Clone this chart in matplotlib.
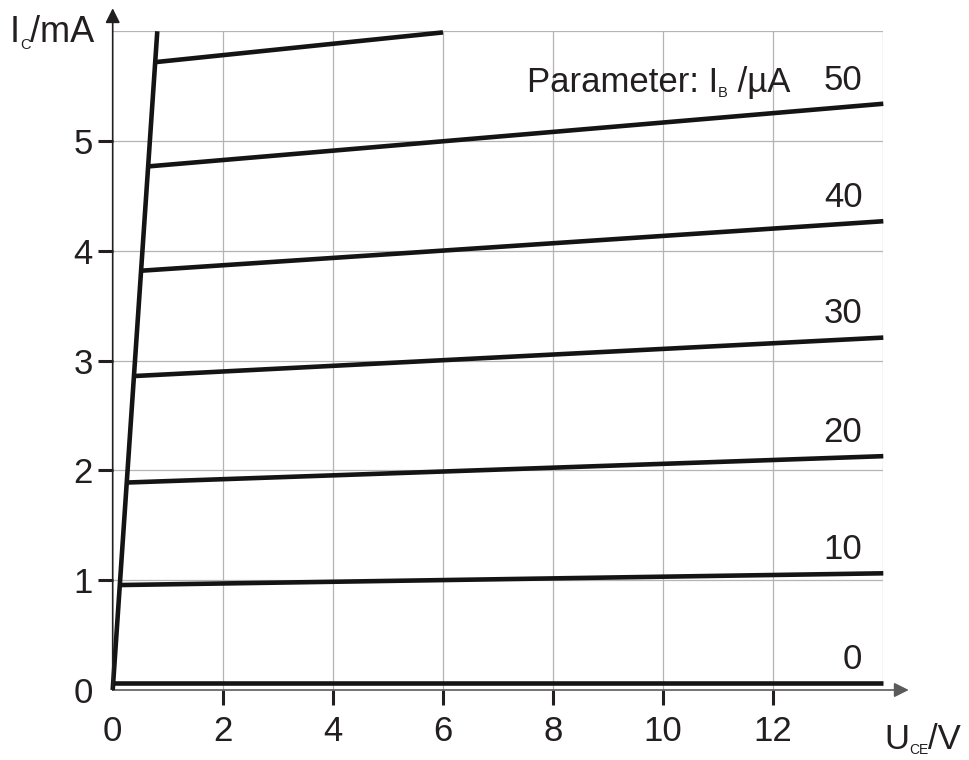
import matplotlib
matplotlib.use('Agg')
import matplotlib.pyplot as plt
from matplotlib.transforms import IdentityTransform

plt.rcParams['font.family'] = ['Liberation Sans', 'DejaVu Sans']

# ---- data ----
ib_labels = ['0', '10', '20', '30', '40', '50', None]   # base current parameter in uA (last curve unlabeled)
u_start = [0.0, 0.14, 0.27, 0.40, 0.54, 0.66, 0.79]    # U_CE at start of each curve (V)
i_start = [0.066, 0.956, 1.89, 2.86, 3.82, 4.77, 5.72] # I_C at start (mA)
u_end = [14, 14, 14, 14, 14, 14, 6]                    # U_CE at end (V)
i_end = [0.066, 1.063, 2.13, 3.21, 4.27, 5.34, 5.99]   # I_C at end (mA)
sat_u = [0.0, 0.81]                                    # saturation boundary line
sat_i = [0.0, 6.0]
x_ticks = [0, 2, 4, 6, 8, 10, 12]
y_ticks = [0, 1, 2, 3, 4, 5]
x_grid = [2, 4, 6, 8, 10, 12, 14]
y_grid = [1, 2, 3, 4, 5, 6]

TXT = '#231f20'
LINE = '#141414'
GRID = '#b4b4b4'
FS = 25

fig = plt.figure(figsize=(9.7, 7.6), dpi=100)
ax = fig.add_axes([112.7 / 970, 70 / 760, 770.6 / 970, 658.7 / 760])
ax.set_xlim(0, 14)
ax.set_ylim(0, 6)

for g in x_grid:
    ax.axvline(g, color=GRID, lw=0.9, zorder=1)
for g in y_grid:
    ax.axhline(g, color=GRID, lw=0.9, zorder=1)

for sp in ax.spines.values():
    sp.set_visible(False)

# curves
for us, is_, ue, ie, lab in zip(u_start, i_start, u_end, i_end, ib_labels):
    ax.plot([us, ue], [is_, ie], color=LINE, lw=3.3, solid_capstyle='butt',
            clip_on=False, zorder=4)
    if lab is not None:
        ax.annotate(lab, xy=(ue, ie), xytext=(-15, 17), textcoords='offset points',
                    ha='right', va='center', fontsize=FS, color=TXT)
ax.plot(sat_u, sat_i, color=LINE, lw=3.3, solid_capstyle='butt', clip_on=False, zorder=5)

# axes arrows
ax.annotate('', xy=(0, 1.035), xycoords='axes fraction', xytext=(0, 0),
            arrowprops=dict(arrowstyle='-|>', color=TXT, lw=1.2, mutation_scale=22,
                            shrinkA=0, shrinkB=0), zorder=6)
ax.annotate('', xy=(1.033, 0), xycoords='axes fraction', xytext=(0, 0),
            arrowprops=dict(arrowstyle='-|>', color='#5a5a5a', lw=1.2, mutation_scale=22,
                            shrinkA=0, shrinkB=0), zorder=3)

# ticks
ax.set_xticks(x_ticks)
ax.set_yticks(y_ticks)
ax.set_xticklabels([str(t) for t in x_ticks])
ax.set_yticklabels([str(t) for t in y_ticks])
ax.tick_params(axis='both', direction='out', length=11, width=2.2, color=TXT,
               labelsize=FS, labelcolor=TXT)
ax.tick_params(axis='x', pad=7)
ax.tick_params(axis='y', pad=3.5)
ax.xaxis.get_major_ticks()[0].tick1line.set_visible(False)
ax.yaxis.get_major_ticks()[0].tick1line.set_visible(False)

renderer = fig.canvas.get_renderer()


def rich(x, y_top, parts):
    """Draw text pieces sequentially; x,y_top given in pixels from top-left (baseline)."""
    y = 760 - y_top
    for txt, size, dy in parts:
        t = fig.text(x, y + dy, txt, fontsize=size, transform=IdentityTransform(),
                     va='baseline', ha='left', color=TXT)
        bb = t.get_window_extent(renderer)
        x = bb.x1


rich(10, 42, [('I', 26, 0), ('C', 10.5, -7), ('/mA', 26, 0)])
rich(884, 749, [('U', FS, 0), ('CE', 10, -5), ('/V', FS, 0)])
rich(527, 91.7, [('Parameter: I', FS, 0), ('B', 10.5, -5), (' /µA', FS, 0)])

fig.savefig('out.png', dpi=100)
